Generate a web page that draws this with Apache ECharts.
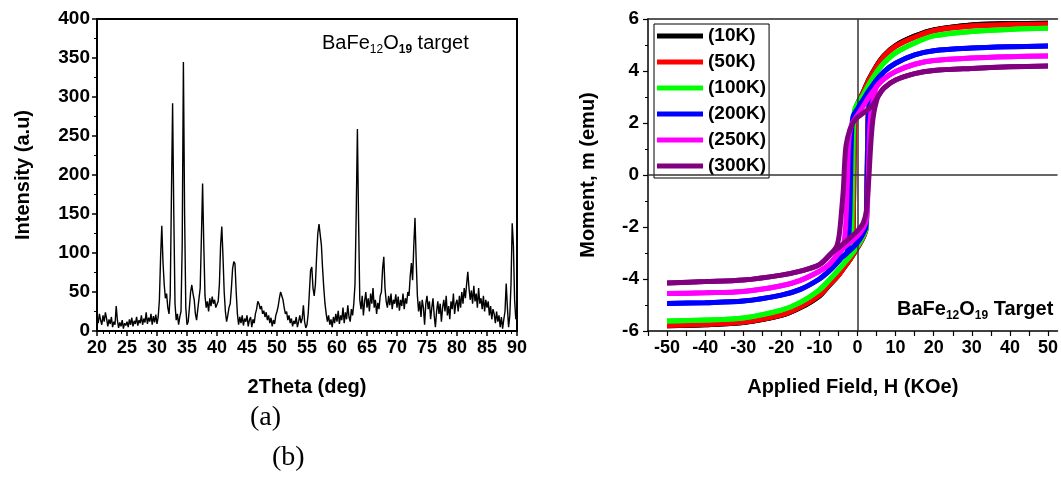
<!DOCTYPE html>
<html>
<head>
<meta charset="utf-8">
<script src="https://cdn.jsdelivr.net/npm/echarts@6/dist/echarts.min.js"></script>
<style>
html, body { margin: 0; padding: 0; background: #fff; }
#chart { width: 1061px; height: 482px; }
</style>
</head>
<body>
<div id="chart"></div>
<script>
// XRD pattern, sampled every 0.2 deg from 20 to 90
const twoThetaStart = 20;
const twoThetaStep = 0.2;
const intensity = [
  18, 10, 22, 14, 8, 20, 12, 24, 16, 6, 15, 9, 18, 5, 12, 8, 32, 14, 4, 11, 6, 14, 3, 10, 7,
  12, 5, 15, 8, 17, 6, 13, 9, 18, 7, 14, 10, 20, 8, 16, 11, 24, 9, 17, 12, 22, 8, 19, 11, 21,
  9, 18, 40, 95, 135, 88, 60, 42, 48, 30, 22, 45, 170, 292, 150, 35, 14, 22, 8, 18, 25, 110, 345, 150, 30,
  8, 12, 30, 50, 59, 48, 40, 22, 14, 28, 30, 55, 120, 189, 110, 45, 30, 38, 25, 42, 32, 44, 35, 40, 30,
  28, 38, 60, 110, 134, 95, 50, 25, 12, 20, 30, 35, 55, 80, 89, 86, 50, 22, 8, 18, 10, 20, 7, 16, 12,
  20, 6, 14, 18, 5, 15, 10, 22, 28, 38, 35, 28, 32, 22, 26, 18, 24, 14, 20, 10, 17, 6, 14, 9, 20,
  25, 32, 42, 50, 52, 40, 30, 22, 25, 14, 20, 10, 16, 6, 13, 9, 18, 5, 12, 20, 10, 16, 33, 12, 4,
  8, 22, 50, 78, 82, 55, 45, 60, 95, 125, 137, 138, 110, 80, 55, 35, 22, 12, 20, 8, 15, 5, 18, 10, 22,
  12, 26, 9, 20, 14, 30, 10, 24, 15, 33, 18, 12, 28, 20, 35, 60, 150, 259, 140, 40, 28, 45, 20, 38, 50,
  30, 42, 25, 48, 35, 55, 30, 40, 22, 36, 28, 45, 50, 80, 95, 55, 38, 30, 45, 33, 48, 28, 40, 35, 47,
  30, 44, 26, 40, 32, 48, 28, 42, 35, 50, 45, 70, 87, 65, 110, 145, 90, 45, 25, 38, 18, 40, 30, 8, 35,
  45, 28, 38, 15, 30, 42, 20, 5, 25, 38, 22, 35, 12, 30, 40, 25, 45, 20, 32, 15, 38, 28, 48, 22, 35,
  40, 25, 45, 30, 50, 35, 55, 42, 60, 76, 55, 40, 52, 35, 58, 38, 48, 30, 55, 35, 42, 28, 45, 25, 40,
  30, 38, 20, 32, 15, 28, 22, 10, 25, 12, 20, 5, 18, 3, 15, 25, 61, 30, 5, 20, 60, 138, 110, 40, 15,
  20
];

// M-H loops: [H (KOe), m (emu)], field sweeping down then up
const loopNames = ['(10K)', '(50K)', '(100K)', '(200K)', '(250K)', '(300K)'];
const loopColors = ['#000000', '#ff0000', '#00ff00', '#0000ff', '#ff00ff', '#800080'];

const m10Down = [[50,5.84],[40,5.82],[30,5.77],[20,5.58],[15,5.34],[10,4.98],[7,4.6],[5,4.2],[3,3.7],[1.5,3.2],[0,2.75],[-0.6,2.5],[-0.8,1.5],[-0.95,0],[-1.1,-1.6],[-1.3,-2.7],[-1.8,-3.2],[-3,-3.45],[-5,-3.85],[-7.5,-4.25],[-10,-4.65],[-15,-5.1],[-20,-5.4],[-30,-5.67],[-40,-5.76],[-50,-5.8]];
const m10Up = [[-50,-5.8],[-40,-5.76],[-30,-5.67],[-20,-5.4],[-15,-5.1],[-10,-4.65],[-7.5,-4.25],[-5,-3.85],[-3,-3.45],[-1.5,-3.15],[0,-2.8],[1.5,-2.4],[2.2,-2.1],[2.4,-1.0],[2.6,0.8],[2.8,2.4],[3.2,3.3],[4,3.85],[5,4.2],[7,4.6],[10,4.98],[15,5.34],[20,5.58],[30,5.77],[40,5.82],[50,5.84]];

const m50Down = [[50,5.8],[40,5.78],[30,5.73],[20,5.55],[15,5.3],[10,4.95],[7,4.57],[5,4.17],[3,3.67],[1.5,3.18],[0,2.72],[-0.6,2.48],[-0.8,1.5],[-0.95,0],[-1.1,-1.6],[-1.3,-2.7],[-1.8,-3.2],[-3,-3.45],[-5,-3.85],[-7.5,-4.23],[-10,-4.62],[-15,-5.07],[-20,-5.38],[-30,-5.65],[-40,-5.74],[-50,-5.78]];
const m50Up = [[-50,-5.78],[-40,-5.74],[-30,-5.65],[-20,-5.38],[-15,-5.07],[-10,-4.62],[-7.5,-4.23],[-5,-3.85],[-3,-3.45],[-1.5,-3.15],[0,-2.8],[1.5,-2.4],[2.2,-2.1],[2.4,-1.0],[2.6,0.8],[2.8,2.4],[3.2,3.28],[4,3.82],[5,4.17],[7,4.57],[10,4.95],[15,5.3],[20,5.55],[30,5.73],[40,5.78],[50,5.8]];

const m100Down = [[50,5.64],[40,5.6],[30,5.52],[20,5.35],[15,5.08],[10,4.7],[7,4.32],[5,3.95],[3,3.5],[1.5,3.1],[0,2.75],[-0.8,2.5],[-1.1,1.5],[-1.25,0],[-1.4,-1.5],[-1.6,-2.6],[-2,-3.1],[-3,-3.3],[-5,-3.65],[-7.5,-4.05],[-10,-4.42],[-15,-4.9],[-20,-5.2],[-30,-5.5],[-40,-5.58],[-50,-5.62]];
const m100Up = [[-50,-5.62],[-40,-5.58],[-30,-5.5],[-20,-5.2],[-15,-4.9],[-10,-4.42],[-7.5,-4.05],[-5,-3.65],[-3,-3.3],[-1.5,-3.05],[0,-2.75],[1.5,-2.35],[2.3,-2.05],[2.55,-1.0],[2.75,0.8],[2.95,2.4],[3.4,3.25],[4,3.65],[5,3.95],[7,4.32],[10,4.7],[15,5.08],[20,5.35],[30,5.52],[40,5.6],[50,5.64]];

const m200Down = [[50,4.96],[40,4.93],[30,4.88],[20,4.78],[15,4.62],[10,4.3],[7,3.98],[5,3.65],[3,3.25],[1.5,2.9],[0,2.55],[-1.2,2.25],[-1.6,1.4],[-1.8,0],[-2,-1.4],[-2.3,-2.4],[-2.8,-3.0],[-4,-3.15],[-5.5,-3.4],[-7.5,-3.7],[-10,-4.0],[-15,-4.4],[-20,-4.62],[-30,-4.85],[-40,-4.91],[-50,-4.94]];
const m200Up = [[-50,-4.94],[-40,-4.91],[-30,-4.85],[-20,-4.62],[-15,-4.4],[-10,-4.0],[-7.5,-3.7],[-5.5,-3.4],[-4,-3.15],[-2,-2.9],[0,-2.6],[1.5,-2.25],[2.2,-2.0],[2.45,-1.0],[2.65,0.8],[2.85,2.2],[3.3,2.95],[4,3.4],[5,3.65],[7,3.98],[10,4.3],[15,4.62],[20,4.78],[30,4.88],[40,4.93],[50,4.96]];

const m250Down = [[50,4.58],[40,4.55],[30,4.5],[20,4.4],[15,4.26],[10,3.98],[7,3.7],[5,3.4],[3,3.0],[1.5,2.65],[0,2.3],[-1.5,1.95],[-2.3,1.3],[-2.6,0],[-2.9,-1.3],[-3.3,-2.3],[-4,-2.85],[-5.5,-3.1],[-7.5,-3.45],[-10,-3.7],[-15,-4.05],[-20,-4.26],[-30,-4.48],[-40,-4.53],[-50,-4.56]];
const m250Up = [[-50,-4.56],[-40,-4.53],[-30,-4.48],[-20,-4.26],[-15,-4.05],[-10,-3.7],[-7.5,-3.45],[-5.5,-3.1],[-4,-2.85],[-2,-2.6],[0,-2.35],[1.5,-2.05],[2.4,-1.7],[2.7,-0.8],[2.95,0.6],[3.2,1.8],[3.7,2.6],[4.5,3.1],[5,3.4],[7,3.7],[10,3.98],[15,4.26],[20,4.4],[30,4.5],[40,4.55],[50,4.58]];

const m300Down = [[50,4.19],[40,4.16],[30,4.1],[20,4.02],[15,3.9],[10,3.65],[7,3.35],[5.5,3.05],[4.5,2.8],[3,2.55],[1.5,2.38],[0,2.22],[-1,2.05],[-2,1.75],[-3,1.15],[-3.4,0.4],[-3.7,-0.5],[-4.2,-1.4],[-4.8,-2.3],[-5.5,-2.75],[-6.8,-3.0],[-10,-3.45],[-15,-3.7],[-20,-3.85],[-30,-4.04],[-40,-4.1],[-50,-4.15]];
const m300Up = [[-50,-4.15],[-40,-4.1],[-30,-4.04],[-20,-3.85],[-15,-3.7],[-10,-3.45],[-6.8,-3.0],[-5,-2.8],[-3,-2.55],[0,-2.15],[1.5,-1.85],[2.3,-1.4],[2.8,-0.5],[3.1,0.2],[3.4,1.0],[3.8,1.8],[4.3,2.4],[5,2.85],[5.5,3.05],[7,3.35],[10,3.65],[15,3.9],[20,4.02],[30,4.1],[40,4.16],[50,4.19]];

const loopsDown = [m10Down, m50Down, m100Down, m200Down, m250Down, m300Down];
const loopsUp = [m10Up, m50Up, m100Up, m200Up, m250Up, m300Up];

const FONT = '"Liberation Sans", Arial, Helvetica, sans-serif';

const xrdData = intensity.map((v, i) => [twoThetaStart + i * twoThetaStep, v]);

const boldText = (size) => ({ color: '#000', fontSize: size, fontWeight: 'bold', fontFamily: FONT });

let series = [
  {
    name: 'xrd',
    type: 'line',
    xAxisIndex: 0,
    yAxisIndex: 0,
    data: xrdData,
    symbol: 'none',
    lineStyle: { color: '#000', width: 1.4 },
    silent: true,
  },
  {
    // zero cross lines of the M-H plot
    name: 'zero',
    type: 'line',
    xAxisIndex: 1,
    yAxisIndex: 1,
    data: [],
    z: 1,
    markLine: {
      silent: true,
      symbol: 'none',
      label: { show: false },
      lineStyle: { color: '#333', width: 1.5, type: 'solid' },
      data: [{ xAxis: 0 }, { yAxis: 0 }],
    },
  },
];

loopNames.forEach((name, i) => {
  [loopsDown[i], loopsUp[i]].forEach((branch) => {
    series.push({
      name: name,
      type: 'line',
      xAxisIndex: 1,
      yAxisIndex: 1,
      data: branch,
      symbol: 'none',
      smooth: 0.3,
      color: loopColors[i],
      lineStyle: { color: loopColors[i], width: 5 },
      z: 2 + i,
    });
  });
});

const option = {
  animation: false,
  backgroundColor: '#fff',
  grid: [
    { left: 97, top: 19, width: 420, height: 312, show: true, borderColor: '#000', borderWidth: 2 },
    { left: 648, top: 19, width: 412, height: 312 },
  ],
  legend: {
    orient: 'vertical',
    left: 654,
    top: 24,
    data: loopNames,
    icon: 'rect',
    itemWidth: 46,
    itemHeight: 5,
    itemGap: 6,
    padding: [2, 3, 2, 3],
    borderColor: '#000',
    borderWidth: 1,
    backgroundColor: '#fff',
    textStyle: Object.assign(boldText(19), { lineHeight: 20 }),
  },
  xAxis: [
    {
      gridIndex: 0,
      type: 'value',
      min: 20,
      max: 90,
      interval: 5,
      axisLine: { onZero: false, lineStyle: { color: '#000', width: 2 } },
      axisTick: { length: 5, lineStyle: { color: '#000', width: 1.5 } },
      minorTick: { show: true, splitNumber: 5, length: 3, lineStyle: { color: '#000', width: 1 } },
      splitLine: { show: false },
      axisLabel: Object.assign(boldText(18), { margin: 8, showMinLabel: true, showMaxLabel: true }),
      name: '2Theta (deg)',
      nameLocation: 'middle',
      nameGap: 46,
      nameTextStyle: boldText(20),
    },
    {
      gridIndex: 1,
      type: 'value',
      min: -55,
      max: 52.5,
      interval: 5,
      axisLine: { onZero: false, lineStyle: { color: '#000', width: 1.5 } },
      axisTick: { length: 5, lineStyle: { color: '#000', width: 1.2 } },
      splitLine: { show: false },
      axisLabel: Object.assign(boldText(18), {
        margin: 8,
        showMaxLabel: false,
        formatter: (v) => (v % 10 === 0 ? String(v) : ''),
      }),
      name: 'Applied Field, H (KOe)',
      nameLocation: 'middle',
      nameGap: 46,
      nameTextStyle: boldText(20),
    },
    {
      // top frame line of the M-H plot
      gridIndex: 1,
      type: 'value',
      position: 'top',
      min: -55,
      max: 52.5,
      axisLine: { onZero: false, lineStyle: { color: '#222', width: 1.5 } },
      axisTick: { show: false },
      axisLabel: { show: false },
      splitLine: { show: false },
    },
  ],
  yAxis: [
    {
      gridIndex: 0,
      type: 'value',
      min: 0,
      max: 400,
      interval: 50,
      axisLine: { onZero: false, lineStyle: { color: '#000', width: 2 } },
      axisTick: { length: 5, lineStyle: { color: '#000', width: 1.5 } },
      minorTick: { show: true, splitNumber: 2, length: 3, lineStyle: { color: '#000', width: 1 } },
      splitLine: { show: false },
      axisLabel: Object.assign(boldText(19), { margin: 7 }),
      name: 'Intensity (a.u)',
      nameLocation: 'middle',
      nameGap: 64,
      nameTextStyle: boldText(20),
    },
    {
      gridIndex: 1,
      type: 'value',
      min: -6,
      max: 6,
      interval: 2,
      axisLine: { onZero: false, lineStyle: { color: '#000', width: 1.5 } },
      axisTick: { length: 5, lineStyle: { color: '#000', width: 1.2 } },
      minorTick: { show: true, splitNumber: 2, length: 3, lineStyle: { color: '#000', width: 1 } },
      splitLine: { show: false },
      axisLabel: Object.assign(boldText(19), { margin: 9 }),
      name: 'Moment, m (emu)',
      nameLocation: 'middle',
      nameGap: 50,
      nameTextStyle: boldText(20),
    },
  ],
  graphic: [
    {
      type: 'text',
      left: 322,
      top: 33,
      style: {
        text: '{a|BaFe}{s|12}{a|O}{t|19}{a| target}',
        rich: {
          a: { fontSize: 20, fontFamily: FONT, fill: '#000', lineHeight: 22 },
          s: { fontSize: 12, fontFamily: FONT, fill: '#000', padding: [13, 0, 0, 0] },
          t: { fontSize: 12, fontFamily: FONT, fontWeight: 'bold', fill: '#000', padding: [13, 0, 0, 0] },
        },
      },
    },
    {
      type: 'text',
      left: 897,
      top: 299,
      z: 20,
      style: {
        text: '{a|BaFe}{s|12}{a|O}{s|19}{a| Target}',
        rich: {
          a: { fontSize: 20, fontWeight: 'bold', fontFamily: FONT, fill: '#000', lineHeight: 22 },
          s: { fontSize: 12, fontWeight: 'bold', fontFamily: FONT, fill: '#000', padding: [13, 0, 0, 0] },
        },
      },
    },
    {
      type: 'text',
      left: 250,
      top: 404,
      style: { text: '(a)', fontSize: 28, fontFamily: '"Liberation Serif", "Times New Roman", serif', fill: '#000' },
    },
    {
      type: 'text',
      left: 272,
      top: 444,
      style: { text: '(b)', fontSize: 28, fontFamily: '"Liberation Serif", "Times New Roman", serif', fill: '#000' },
    },
  ],
  series: series,
};

const myChart = echarts.init(document.getElementById('chart'));
myChart.setOption(option);
</script>
</body>
</html>
